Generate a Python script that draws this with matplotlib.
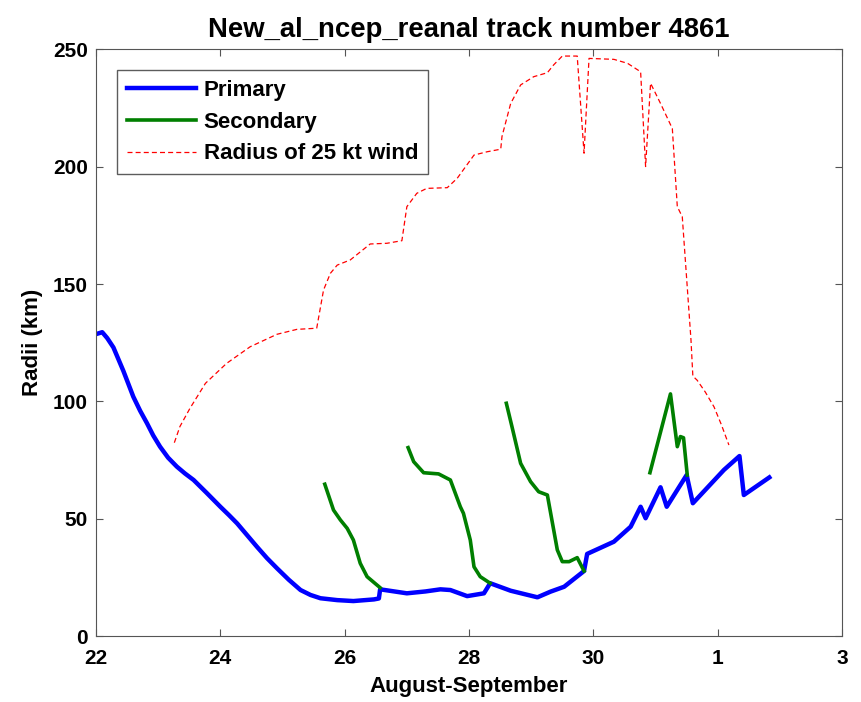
import matplotlib
matplotlib.use('Agg')
import matplotlib.pyplot as plt

plt.rcParams['font.family'] = ['Liberation Sans', 'DejaVu Sans']
plt.rcParams['font.weight'] = 'bold'

# days counted from Aug 1 (Sep 1 = 32)
primary_day = [22.04, 22.10, 22.18, 22.28, 22.36, 22.44, 22.52, 22.60, 22.71, 22.82,
               22.92, 23.03, 23.16, 23.30, 23.43, 23.57, 23.78, 24.00, 24.14, 24.27,
               24.43, 24.59, 24.75, 24.91, 25.10, 25.29, 25.45, 25.61, 25.88, 26.14,
               26.47, 26.55, 26.57, 27.00, 27.30, 27.54, 27.70, 27.97, 28.24, 28.34,
               28.67, 29.10, 29.31, 29.53, 29.85, 29.90, 30.33, 30.60, 30.76, 30.84,
               31.08, 31.18, 31.50, 31.60, 32.10, 32.35, 32.42, 32.83]
primary_r = [129.0, 129.5, 127.0, 123.0, 118.0, 113.0, 107.5, 102.0, 96.0, 90.7,
             85.5, 80.7, 76.0, 72.2, 69.3, 66.5, 61.0, 55.1, 51.5, 48.0,
             43.0, 38.0, 33.2, 28.9, 24.0, 19.6, 17.5, 16.1, 15.3, 14.9,
             15.6, 16.0, 19.9, 18.2, 19.0, 19.9, 19.6, 17.0, 18.2, 22.5,
             19.3, 16.5, 18.9, 21.0, 27.7, 35.0, 40.2, 46.6, 55.1, 50.2,
             63.4, 55.1, 68.6, 56.6, 70.8, 76.7, 60.1, 67.6]

sec_day = [
    [25.68, 25.82, 25.93, 26.04, 26.14, 26.25, 26.36, 26.57],
    [27.02, 27.11, 27.27, 27.51, 27.70, 27.86, 27.91, 28.02, 28.08, 28.18, 28.34],
    [28.60, 28.69, 28.83, 28.99, 29.12, 29.26, 29.42, 29.50, 29.61, 29.74, 29.85],
    [30.91, 31.24, 31.35, 31.40, 31.45, 31.51],
]
sec_r = [
    [64.7, 53.7, 49.5, 45.9, 40.9, 31.0, 25.3, 20.6],
    [80.3, 74.3, 69.6, 69.1, 66.5, 55.1, 52.3, 40.9, 29.5, 25.3, 22.5],
    [99.2, 89.3, 73.6, 65.8, 61.5, 60.1, 36.7, 31.7, 31.7, 33.4, 27.7],
    [69.6, 103.2, 80.7, 85.0, 84.5, 68.6],
]

wind_day = [23.26, 23.35, 23.51, 23.76, 24.10, 24.48, 24.91, 25.23, 25.55, 25.66,
            25.77, 25.88, 26.09, 26.41, 26.68, 26.92, 27.00, 27.16, 27.32, 27.65,
            27.81, 28.08, 28.29, 28.51, 28.53, 28.67, 28.83, 29.04, 29.26, 29.36,
            29.50, 29.74, 29.85, 29.93, 30.33, 30.55, 30.76, 30.84, 30.92, 31.08,
            31.27, 31.35, 31.43, 31.57, 31.60, 31.67, 31.80, 31.94, 32.06, 32.18]
wind_r = [82.4, 89.3, 97.0, 107.7, 116.2, 123.3, 128.6, 130.7, 131.2, 147.5,
          154.6, 158.1, 160.3, 167.1, 167.4, 168.5, 183.0, 188.7, 190.8, 191.1,
          195.1, 205.0, 206.4, 207.5, 212.9, 227.0, 234.9, 238.4, 240.1, 243.4,
          247.2, 247.2, 205.8, 246.2, 245.8, 244.1, 240.5, 200.1, 235.6, 227.0,
          216.3, 183.0, 178.7, 126.2, 110.8, 109.0, 104.0, 97.7, 90.0, 81.4]

tick_days = [22, 24, 26, 28, 30, 32, 34]
tick_labels = ['22', '24', '26', '28', '30', '1', '3']

fig = plt.figure(figsize=(8.61, 7.02), dpi=100)
ax = fig.add_axes([0.1115, 0.094, 0.8665, 0.8355])

ax.plot(primary_day, primary_r, color='#0000ff', lw=3.2, label='Primary')
for i in range(len(sec_day)):
    ax.plot(sec_day[i], sec_r[i], color='#007f00', lw=2.6,
            label='Secondary' if i == 0 else None)
ax.plot(wind_day, wind_r, color='#ff0000', lw=0.9, ls=(0, (4, 2.5)),
        label='Radius of 25 kt wind')

ax.set_xlim(22, 34)
ax.set_ylim(0, 250)
ax.set_xticks(tick_days)
ax.set_xticklabels(tick_labels)
ax.set_yticks([0, 50, 100, 150, 200, 250])
ax.tick_params(direction='in', top=True, right=True, labelsize=15, length=5,
               color='#555555')
ax.tick_params(axis='x', pad=9)
ax.tick_params(axis='y', pad=6)
for s in ax.spines.values():
    s.set_color('#555555')

ax.set_title('New_al_ncep_reanal track number 4861', fontsize=19.8, fontweight='bold', pad=9)
ax.set_xlabel('August-September', fontsize=16, fontweight='bold', labelpad=6)
ax.set_ylabel('Radii (km)', fontsize=16, fontweight='bold', labelpad=7)

leg = ax.legend(loc='upper left', bbox_to_anchor=(0.028, 0.965), fontsize=16,
                frameon=True, fancybox=False, edgecolor='#333333',
                handlelength=3.1, handletextpad=0.36, borderpad=0.45,
                labelspacing=0.48, borderaxespad=0)
leg.get_frame().set_linewidth(1.0)

fig.savefig('out.png', dpi=100)
